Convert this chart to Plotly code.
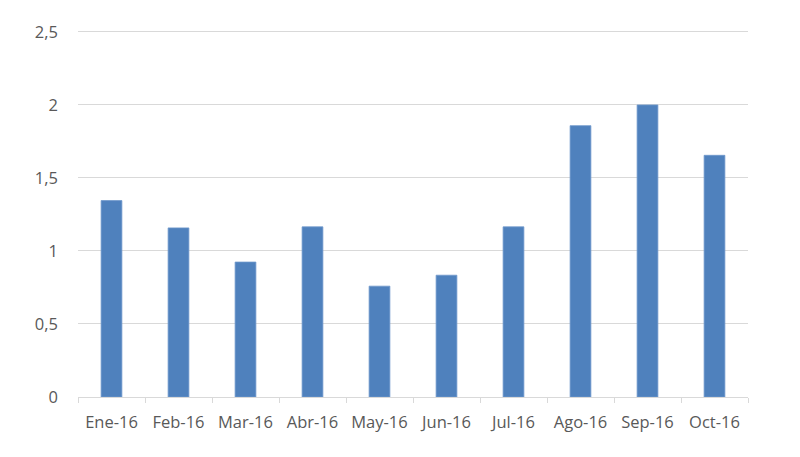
import plotly.graph_objects as go

categories = ["Ene-16", "Feb-16", "Mar-16", "Abr-16", "May-16", "Jun-16",
              "Jul-16", "Ago-16", "Sep-16", "Oct-16"]
values = [1.345, 1.158, 0.924, 1.165, 0.759, 0.834, 1.165, 1.858, 2.0, 1.655]
y_ticks = [0, 0.5, 1, 1.5, 2, 2.5]
y_tick_labels = ["0", "0,5", "1", "1,5", "2", "2,5"]

fig = go.Figure(go.Bar(
    x=categories, y=values,
    marker=dict(color="#4f81bd", line=dict(color="#6f98cc", width=0.8)),
))

fig.update_layout(
    width=784, height=441,
    margin=dict(l=70, r=44, t=16, b=52),
    plot_bgcolor="white", paper_bgcolor="white",
    bargap=0.69,
    showlegend=False,
    font=dict(family="Open Sans", size=16, color="#595959"),
)
fig.update_xaxes(
    showgrid=False, showline=True, linecolor="#d9d9d9", linewidth=1,
    ticks="outside", tickson="boundaries", ticklen=5, tickcolor="#d9d9d9",
    ticklabelstandoff=10,
    tickfont=dict(size=16.5, color="#595959"),
)
fig.update_yaxes(
    range=[0, 2.52], tickvals=y_ticks, ticktext=y_tick_labels,
    showgrid=True, gridcolor="#d9d9d9", gridwidth=1,
    zeroline=False, showline=False, ticks="",
    ticklabelstandoff=19,
    tickfont=dict(size=16.5, color="#595959"),
)

fig.write_html("out.html")
